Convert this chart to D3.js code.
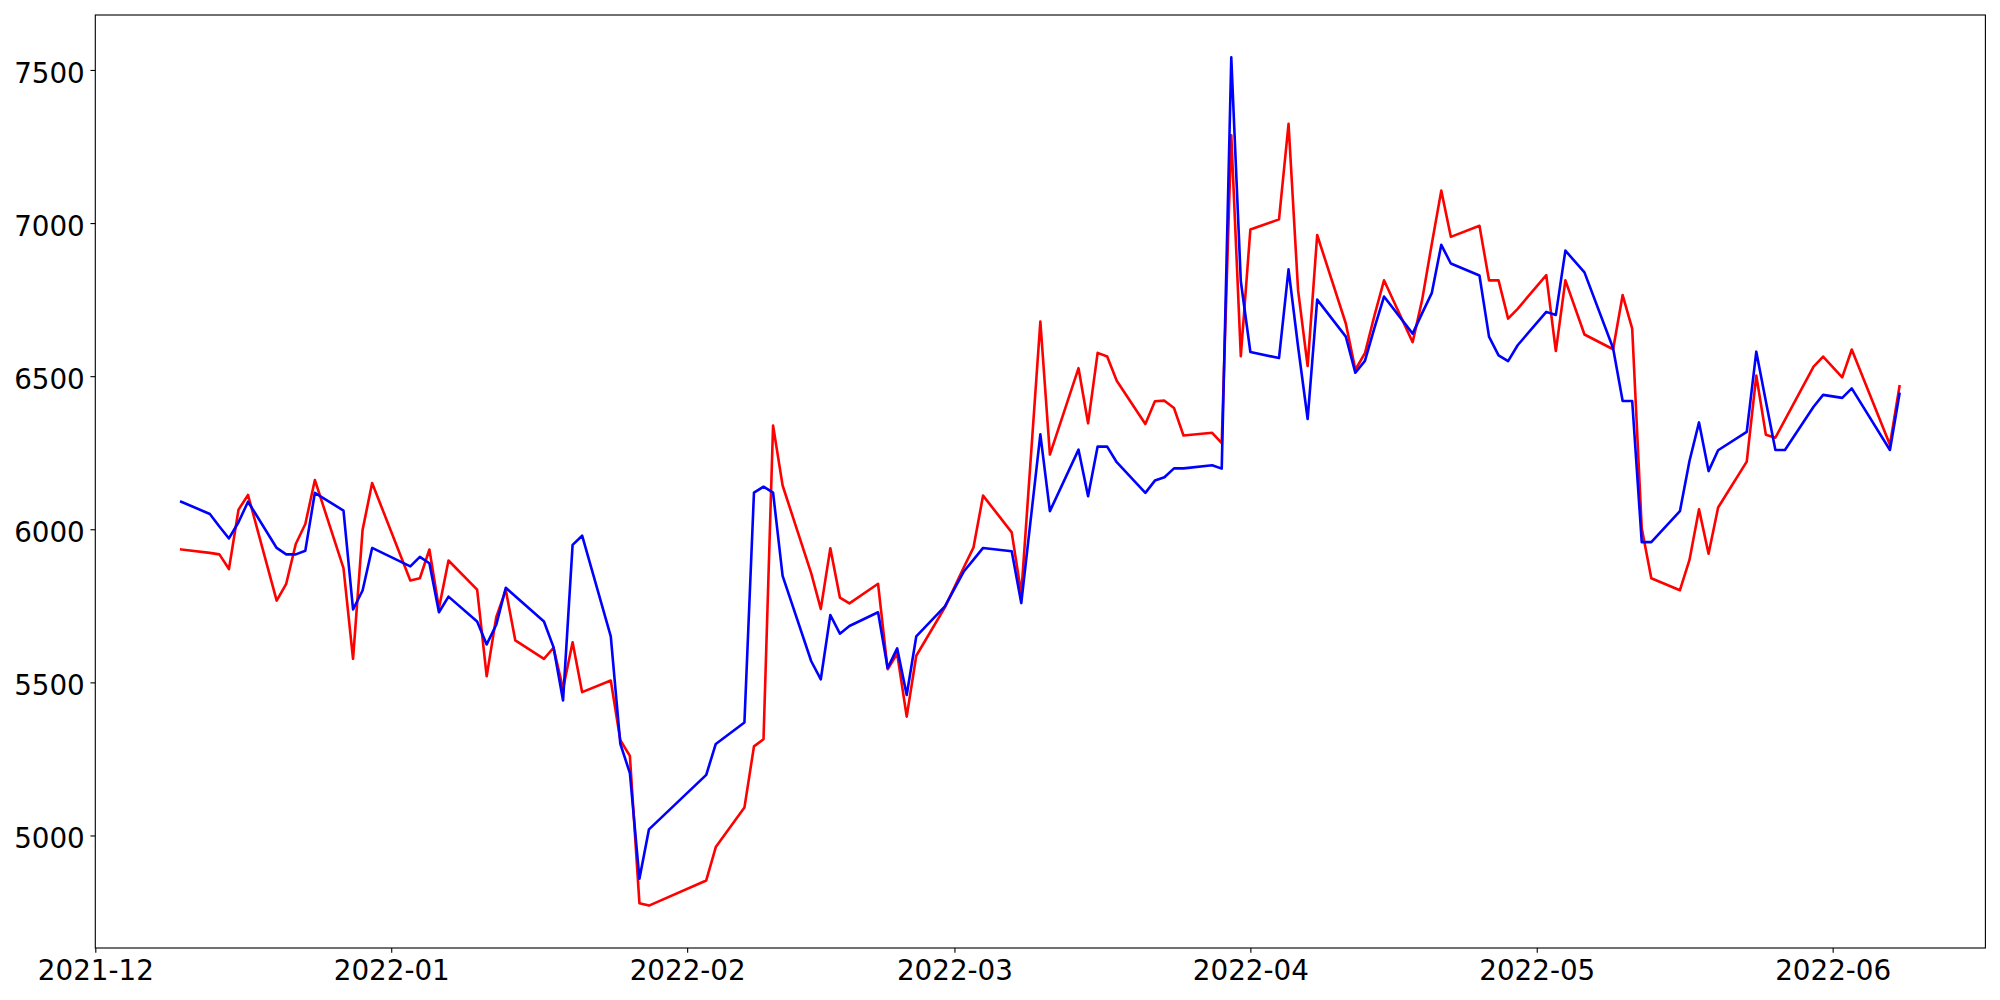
<!DOCTYPE html>
<html>
<head>
<meta charset="utf-8">
<script src="https://cdn.jsdelivr.net/npm/d3@7"></script>
<style>
  html, body { margin: 0; padding: 0; background: #ffffff; }
  svg { display: block; }
  text { font-family: "DejaVu Sans", sans-serif; }
</style>
</head>
<body>
<svg id="chart" width="2000" height="1000"></svg>
<script>
// ---- data ----
const dates = [
  "2021-12-10","2021-12-13","2021-12-14","2021-12-15","2021-12-16","2021-12-17",
  "2021-12-20","2021-12-21","2021-12-22","2021-12-23","2021-12-24",
  "2021-12-27","2021-12-28","2021-12-29","2021-12-30",
  "2022-01-03","2022-01-04","2022-01-05","2022-01-06","2022-01-07",
  "2022-01-10","2022-01-11","2022-01-12","2022-01-13","2022-01-14",
  "2022-01-17","2022-01-18","2022-01-19","2022-01-20","2022-01-21",
  "2022-01-24","2022-01-25","2022-01-26","2022-01-27","2022-01-28",
  "2022-02-03","2022-02-04",
  "2022-02-07","2022-02-08","2022-02-09","2022-02-10","2022-02-11",
  "2022-02-14","2022-02-15","2022-02-16","2022-02-17","2022-02-18",
  "2022-02-21","2022-02-22","2022-02-23","2022-02-24","2022-02-25",
  "2022-02-28","2022-03-02","2022-03-03","2022-03-04",
  "2022-03-07","2022-03-08","2022-03-10","2022-03-11",
  "2022-03-14","2022-03-15","2022-03-16","2022-03-17","2022-03-18",
  "2022-03-21","2022-03-22","2022-03-23","2022-03-24","2022-03-25",
  "2022-03-28","2022-03-29","2022-03-30","2022-03-31","2022-04-01",
  "2022-04-04","2022-04-05","2022-04-06","2022-04-07","2022-04-08",
  "2022-04-11","2022-04-12","2022-04-13","2022-04-14","2022-04-15",
  "2022-04-18","2022-04-19","2022-04-20","2022-04-21","2022-04-22",
  "2022-04-25","2022-04-26","2022-04-27","2022-04-28","2022-04-29",
  "2022-05-02","2022-05-03","2022-05-04","2022-05-06",
  "2022-05-09","2022-05-10","2022-05-11","2022-05-12","2022-05-13",
  "2022-05-16","2022-05-17","2022-05-18","2022-05-19","2022-05-20",
  "2022-05-23","2022-05-24","2022-05-25","2022-05-26","2022-05-27",
  "2022-05-30","2022-05-31","2022-06-02","2022-06-03",
  "2022-06-07","2022-06-08"
];

const redValues = [
  5934,5923,5918,5870,6064,6112,
  5767,5822,5952,6017,6161,
  5873,5577,5998,6151,
  5833,5840,5934,5742,5898,
  5803,5520,5713,5802,5637,
  5577,5613,5479,5631,5468,
  5506,5311,5260,4779,4771,
  4853,4962,
  5091,5291,5314,6339,6143,
  5856,5740,5938,5777,5758,
  5822,5543,5594,5388,5587,
  5745,5877,5941,6110,
  5990,5789,6678,6244,
  6526,6346,6576,6564,6485,
  6344,6418,6420,6396,6306,
  6315,6281,7287,6565,6979,
  7012,7324,6780,6533,6961,
  6672,6521,6575,6698,6813,
  6611,6750,6931,7106,6955,
  6991,6813,6813,6688,6720,
  6830,6582,6813,6636,
  6588,6765,6655,6003,5840,
  5801,5900,6065,5920,6071,
  6221,6502,6309,6299,6357,
  6531,6564,6496,6587,
  6276,6467
];

const blueValues = [
  6090,6050,6009,5970,6023,6090,
  5939,5918,5918,5930,6119,
  6061,5738,5800,5939,
  5879,5910,5889,5729,5780,
  5699,5624,5688,5809,5781,
  5699,5615,5441,5949,5979,
  5650,5299,5204,4859,5020,
  5198,5299,
  5369,6120,6139,6120,5848,
  5569,5510,5720,5659,5684,
  5729,5547,5611,5459,5650,
  5748,5863,5901,5939,
  5928,5759,6310,6059,
  6260,6108,6270,6270,6219,
  6119,6159,6170,6199,6199,
  6209,6198,7541,6810,6579,
  6559,6849,6596,6360,6750,
  6629,6511,6550,6658,6760,
  6639,6706,6771,6929,6868,
  6829,6629,6568,6549,6601,
  6710,6700,6910,6839,
  6591,6419,6419,5958,5958,
  6059,6223,6349,6190,6258,
  6318,6580,6418,6259,6259,
  6400,6439,6429,6460,
  6259,6442
];

const yTickValues = [5000, 5500, 6000, 6500, 7000, 7500];
const xTickLabels = ["2021-12","2022-01","2022-02","2022-03","2022-04","2022-05","2022-06"];

// ---- layout ----
const plot = { left: 95.3, right: 1985.4, top: 15, bottom: 948 };
const fontPx = 27.78;
const lineW = 2.6;

const svg = d3.select("#chart");

const parse = s => { const [y, m, d] = s.split("-").map(Number); return new Date(Date.UTC(y, m - 1, d)); };
const t = dates.map(parse);

// matplotlib-like 5% margins
const tMin = d3.min(t), tMax = d3.max(t);
const tPad = (tMax - tMin) * 0.05;
const x = d3.scaleUtc()
  .domain([new Date(+tMin - tPad), new Date(+tMax + tPad)])
  .range([plot.left, plot.right]);

const allV = redValues.concat(blueValues);
const vMin = d3.min(allV), vMax = d3.max(allV);
const vPad = (vMax - vMin) * 0.05;
const y = d3.scaleLinear()
  .domain([vMin - vPad, vMax + vPad])
  .range([plot.bottom, plot.top]);

svg.append("defs").append("clipPath").attr("id", "clip")
  .append("rect")
  .attr("x", plot.left).attr("y", plot.top)
  .attr("width", plot.right - plot.left).attr("height", plot.bottom - plot.top);

const line = d3.line()
  .x((d, i) => x(t[i]))
  .y(d => y(d));

const g = svg.append("g").attr("clip-path", "url(#clip)");
g.append("path")
  .datum(redValues)
  .attr("d", line)
  .attr("fill", "none")
  .attr("stroke", "#ff0000")
  .attr("stroke-width", lineW)
  .attr("stroke-linejoin", "round")
  .attr("stroke-linecap", "square");
g.append("path")
  .datum(blueValues)
  .attr("d", line)
  .attr("fill", "none")
  .attr("stroke", "#0000ff")
  .attr("stroke-width", lineW)
  .attr("stroke-linejoin", "round")
  .attr("stroke-linecap", "square");

// ---- axes ----
const xTickDates = xTickLabels.map(s => parse(s + "-01"));
const xAxis = d3.axisBottom(x)
  .tickValues(xTickDates)
  .tickFormat((d, i) => xTickLabels[i])
  .tickSize(4.86)
  .tickPadding(4.86)
  .tickSizeOuter(0);
const gx = svg.append("g")
  .attr("transform", `translate(0,${plot.bottom})`)
  .call(xAxis);
gx.select(".domain").remove();
gx.selectAll(".tick line").attr("stroke", "#000").attr("stroke-width", 1.11);
gx.selectAll(".tick text")
  .attr("fill", "#000")
  .style("font-size", fontPx + "px")
  .attr("dy", null)
  .attr("y", 32);

const yAxis = d3.axisLeft(y)
  .tickValues(yTickValues)
  .tickFormat(d3.format("d"))
  .tickSize(4.86)
  .tickPadding(4.86)
  .tickSizeOuter(0);
const gy = svg.append("g")
  .attr("transform", `translate(${plot.left},0)`)
  .call(yAxis);
gy.select(".domain").remove();
gy.selectAll(".tick line").attr("stroke", "#000").attr("stroke-width", 1.11);
gy.selectAll(".tick text")
  .attr("fill", "#000")
  .style("font-size", fontPx + "px")
  .attr("dy", null)
  .attr("y", 12.2)
  .attr("x", -10.5);

svg.append("rect")
  .attr("x", plot.left).attr("y", plot.top)
  .attr("width", plot.right - plot.left).attr("height", plot.bottom - plot.top)
  .attr("fill", "none")
  .attr("stroke", "#000")
  .attr("stroke-width", 1.11);
</script>
</body>
</html>
